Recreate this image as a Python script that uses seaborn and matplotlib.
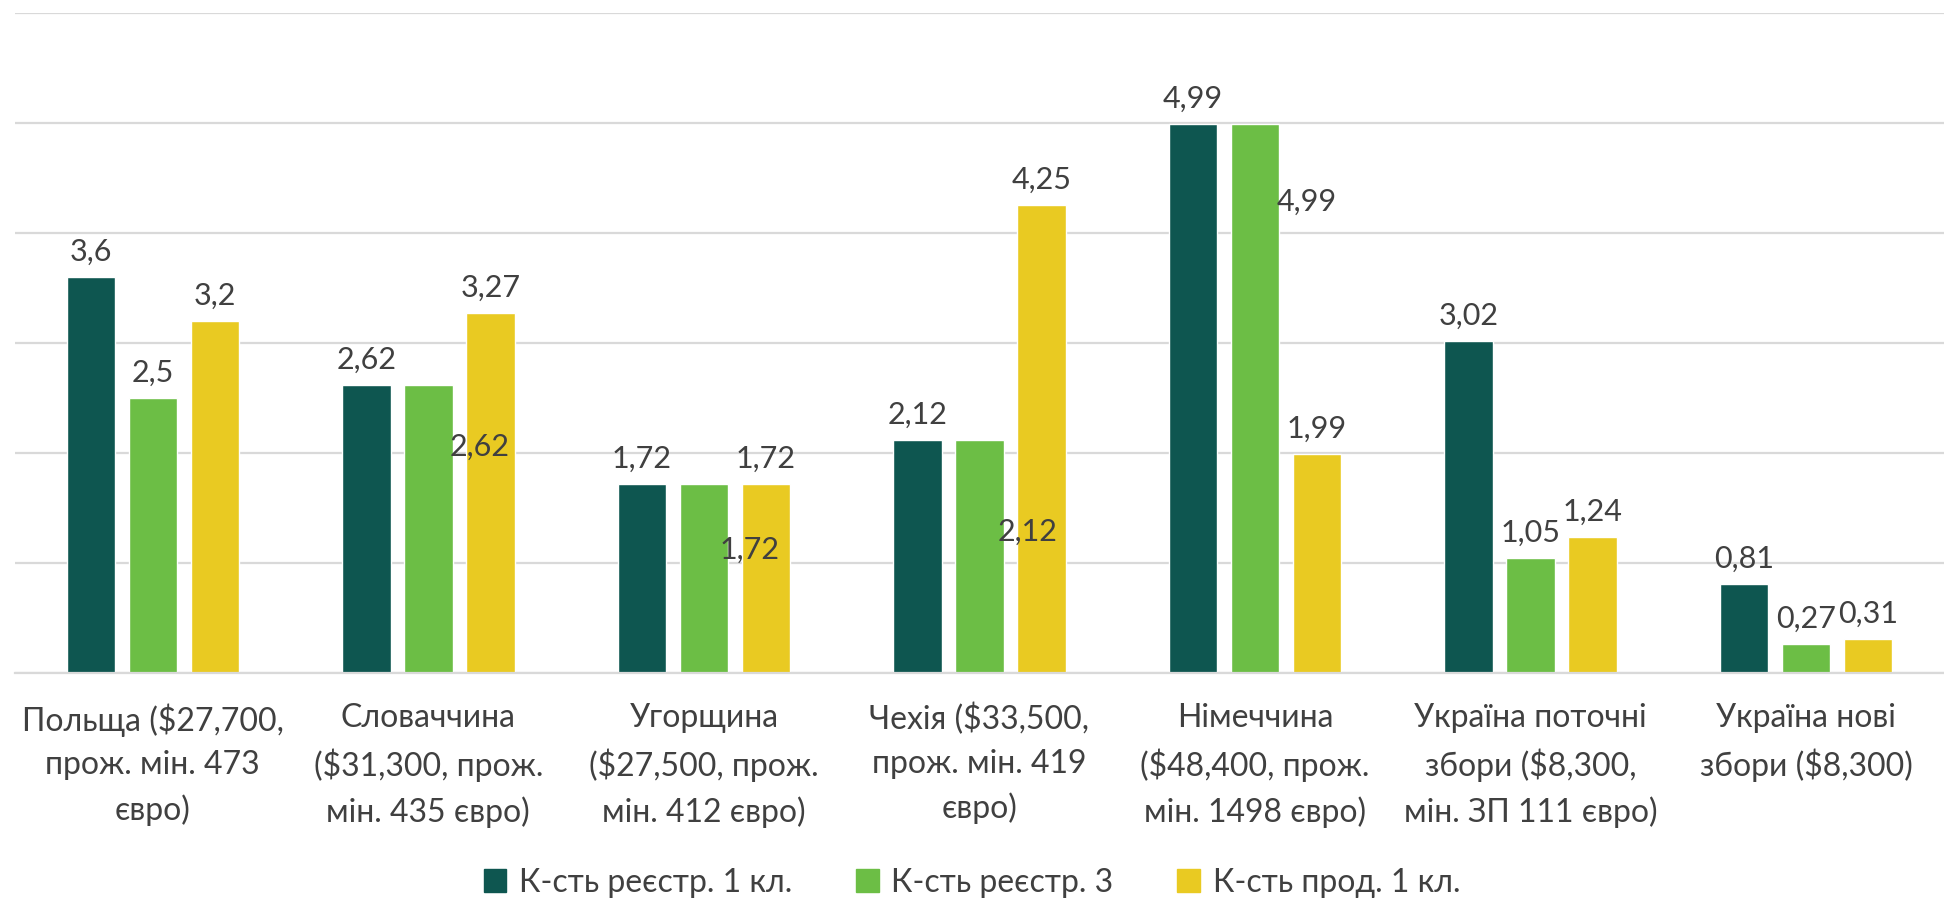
import pandas as pd
import matplotlib.pyplot as plt
import seaborn as sns
from matplotlib.patches import Patch

# Data
countries = [
    "Польща ($27,700,\nпрож. мін. 473\nєвро)",
    "Словаччина\n($31,300, прож.\nмін. 435 євро)",
    "Угорщина\n($27,500, прож.\nмін. 412 євро)",
    "Чехія ($33,500,\nпрож. мін. 419\nєвро)",
    "Німеччина\n($48,400, прож.\nмін. 1498 євро)",
    "Україна поточні\nзбори ($8,300,\nмін. ЗП 111 євро)",
    "Україна нові\nзбори ($8,300)",
]
series = ["К-сть реєстр. 1 кл.", "К-сть реєстр. 3", "К-сть прод. 1 кл."]
reg_1kl = [3.6, 2.62, 1.72, 2.12, 4.99, 3.02, 0.81]
reg_3 = [2.5, 2.62, 1.72, 2.12, 4.99, 1.05, 0.27]
prod_1kl = [3.2, 3.27, 1.72, 4.25, 1.99, 1.24, 0.31]

colors = ["#0E5650", "#6CBE45", "#E9CA22"]
text_color = "#404040"
grid_color = "#D9D9D9"

# green labels that Excel pushed off their bars: group -> (x shift in slots, drop in units)
label_nudge = {1: (0.83, 0.56), 2: (0.74, 0.60), 3: (0.78, 0.83), 4: (0.83, 0.71)}

df = pd.DataFrame({
    "country": countries * 3,
    "series": [s for s in series for _ in countries],
    "value": reg_1kl + reg_3 + prod_1kl,
})

sns.set_style("white")
plt.rcParams["font.family"] = ["Lato", "DejaVu Sans"]

fig = plt.figure(figsize=(19.44, 8.99), dpi=100)
ax = fig.add_axes([0.0077, 0.251, 0.9923, 0.735])

sns.barplot(data=df, x="country", y="value", hue="series", palette=colors,
            width=0.675, gap=0.22, saturation=1, legend=False, ax=ax, zorder=2)

ax.set_ylim(0, 6)
ax.set_xlim(-0.5, len(countries) - 0.5)
ax.set_yticks(range(0, 7))
ax.yaxis.grid(True, color=grid_color, linewidth=1.6, zorder=0)
ax.set_axisbelow(True)
ax.tick_params(axis="y", left=False, labelleft=False)
ax.tick_params(axis="x", bottom=False, labelsize=23, labelcolor=text_color, pad=18)
for lab in ax.get_xticklabels():
    lab.set_linespacing(1.55)
    lab.set_va("top")
ax.set_xlabel("")
ax.set_ylabel("")
for side in ["left", "right", "top"]:
    ax.spines[side].set_visible(False)
ax.spines["bottom"].set_color(grid_color)
ax.spines["bottom"].set_linewidth(1.6)

# Data labels
values = [reg_1kl, reg_3, prod_1kl]
for si, cont in enumerate(ax.containers):
    for gi, bar in enumerate(cont):
        v = values[si][gi]
        txt = f"{v:g}".replace(".", ",")
        x = bar.get_x() + bar.get_width() / 2
        if si == 1 and gi in label_nudge:
            slot = ax.containers[2][gi].get_x() - bar.get_x()
            dx, dy = label_nudge[gi]
            ax.text(x + dx * slot, v - dy, txt, ha="center", va="center",
                    fontsize=22, color=text_color, zorder=3)
        else:
            ax.annotate(txt, (x, v), xytext=(0, 8), textcoords="offset points",
                        ha="center", va="bottom", fontsize=22, color=text_color, zorder=3)

handles = [Patch(facecolor=c, edgecolor=c) for c in colors]
fig.legend(handles, series, loc="center", bbox_to_anchor=(0.5, 0.018), ncol=3,
           frameon=False, fontsize=23, labelcolor=text_color, handlelength=0.7,
           handleheight=0.7, handletextpad=0.4, columnspacing=2.0)

fig.savefig("out.png", dpi=100)
